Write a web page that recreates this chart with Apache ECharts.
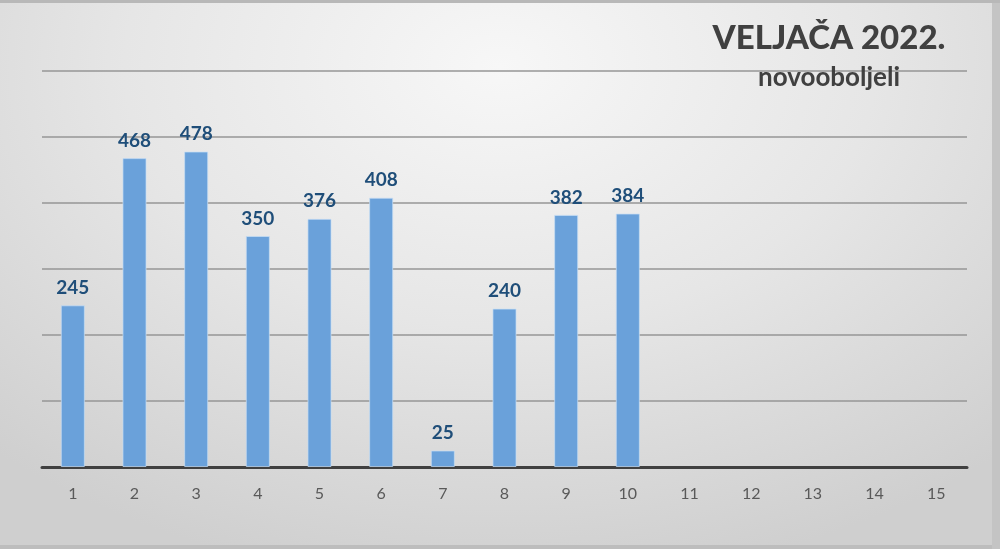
<!DOCTYPE html>
<html><head><meta charset="utf-8">
<script src="https://cdn.jsdelivr.net/npm/echarts@6/dist/echarts.min.js"></script>
<style>
html,body{margin:0;padding:0;width:1000px;height:549px;overflow:hidden;}
#wrap{position:relative;width:1000px;height:549px;background:radial-gradient(ellipse 75% 95% at 50% 12%, #f7f7f7 0%, #e6e6e6 50%, #cfcfcf 100%);box-shadow:inset 0 3px 0 #b8b8b8, inset -8px 0 0 #c4c4c4, inset 0 -4px 0 #bdbdbd;}
#chart{position:absolute;left:0;top:0;width:1000px;height:549px;}
</style></head>
<body><div id="wrap"><div id="chart"></div></div>
<script>
const categories = ['1','2','3','4','5','6','7','8','9','10','11','12','13','14','15'];
const values = [245,468,478,350,376,408,25,240,382,384,null,null,null,null,null];
const titleText = 'VELJAČA 2022.';
const subtitleText = 'novooboljeli';

const chart = echarts.init(document.getElementById('chart'));
chart.setOption({
  backgroundColor: 'transparent',
  animation: false,
  title: {
    text: titleText, subtext: subtitleText, left: 824, top: 17, textAlign: 'center', itemGap: 10,
    textStyle: {fontFamily: 'Lato', fontWeight: 900, fontSize: 33, color: '#404040'},
    subtextStyle: {fontFamily: 'Lato', fontWeight: 'bold', fontSize: 26, color: '#404040'}
  },
  grid: {left: 42, right: 33, top: 71, bottom: 82, containLabel: false},
  xAxis: {
    type: 'category', data: categories,
    axisLine: {lineStyle: {color: '#404040', width: 3}},
    axisTick: {show: false},
    axisLabel: {color: '#595959', fontSize: 16, fontFamily: 'Lato', margin: 19}
  },
  yAxis: {
    type: 'value', min: 0, max: 600, interval: 100,
    axisLabel: {show: false}, axisLine: {show: false}, axisTick: {show: false},
    splitLine: {lineStyle: {color: '#969696', width: 1.5}}
  },
  series: [{
    type: 'bar', data: values, barCategoryGap: '61%',
    itemStyle: {color: '#6aa1da', borderColor: 'rgba(200,222,245,0.7)', borderWidth: 1},
    label: {show: true, position: 'top', distance: 8, color: '#1f4e79', fontWeight: 'bold', fontSize: 19, fontFamily: 'Lato'}
  }]
});
</script></body></html>
